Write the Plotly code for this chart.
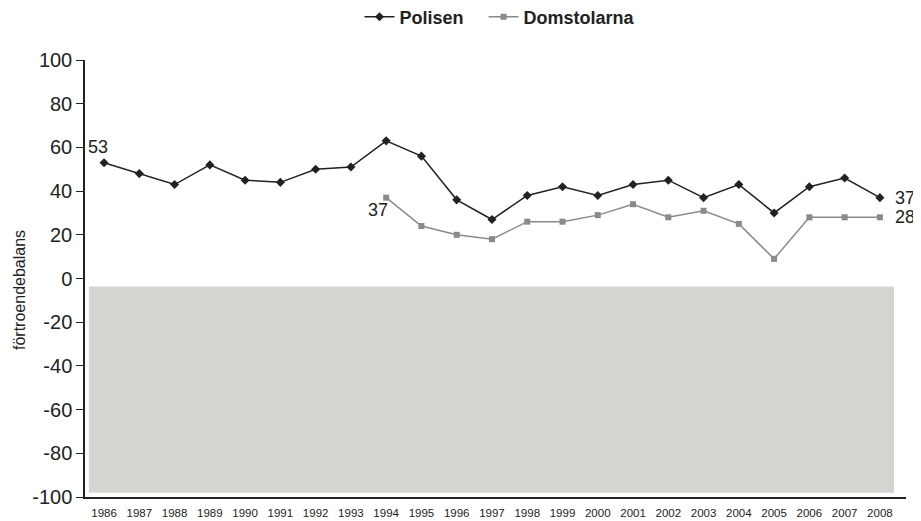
import plotly.graph_objects as go

years = list(range(1986, 2009))
polisen = [53, 48, 43, 52, 45, 44, 50, 51, 63, 56, 36, 27, 38, 42, 38, 43, 45, 37, 43, 30, 42, 46, 37]
dom_years = list(range(1994, 2009))
domstolarna = [37, 24, 20, 18, 26, 26, 29, 34, 28, 31, 25, 9, 28, 28, 28]
y_ticks = [100, 80, 60, 40, 20, 0, -20, -40, -60, -80, -100]
y_title = "förtroendebalans"

FONT = "Liberation Sans, Arial, sans-serif"
W, H = 913, 513  # page body adds an 8px margin in the 921x521 window
ML, MR, MT, MB = 77, 15, 52, 24

fig = go.Figure()
fig.add_shape(type="rect", xref="x", yref="y", x0=1986 - 0.43, x1=2008 + 0.4, y0=-98, y1=-3.7,
              fillcolor="#d3d5d0", line=dict(width=0), layer="below")
fig.add_trace(go.Scatter(x=years, y=polisen, name="<b>Polisen</b>&nbsp;&nbsp;&nbsp;", mode="lines+markers",
                         line=dict(color="#222222", width=1.5),
                         marker=dict(symbol="diamond", size=7, color="#222222")))
fig.add_trace(go.Scatter(x=dom_years, y=domstolarna, name="<b>Domstolarna</b>", mode="lines+markers",
                         line=dict(color="#8a8a8a", width=1.5),
                         marker=dict(symbol="square", size=6, color="#8a8a8a")))

# (x, y, text, xanchor, xshift, yshift)
ann = [
    (years[0], polisen[0], str(polisen[0]), "center", -6, 16),
    (dom_years[0], domstolarna[0], str(domstolarna[0]), "right", 4, -12),
    (years[-1], polisen[-1], str(polisen[-1]), "left", 13, 0),
    (dom_years[-1], domstolarna[-1], str(domstolarna[-1]), "left", 13, 0),
]
for x, y, t, xa, dx, dy in ann:
    fig.add_annotation(x=x, y=y, text=t, showarrow=False, xanchor=xa,
                       xshift=dx, yshift=dy,
                       font=dict(family=FONT, size=18, color="#222"))

plot_h = H - MT - MB
fig.add_annotation(text=y_title, textangle=-90, showarrow=False,
                   xref="paper", yref="paper", x=0, y=(H - MB - 282) / plot_h,
                   xanchor="center", yanchor="middle", xshift=11 - ML,
                   font=dict(family=FONT, size=16, color="#222"))

fig.update_layout(
    width=W, height=H,
    margin=dict(l=ML, r=MR, t=MT, b=MB, autoexpand=False),
    paper_bgcolor="white", plot_bgcolor="white",
    font=dict(family=FONT, color="#222"),
    showlegend=True,
    legend=dict(orientation="h", xref="container", yref="container",
                x=492 / W, xanchor="center", y=1 - 9 / H, yanchor="middle",
                font=dict(family=FONT, size=18, color="#222"), itemwidth=30,
                tracegroupgap=0),
    xaxis=dict(range=[1986 - 0.54, 2008 + 0.74], tickmode="array", tickvals=years,
               ticktext=[str(y) for y in years], tickfont=dict(size=11.5, family=FONT),
               showgrid=False, zeroline=False, showline=True, linecolor="#222", linewidth=1.5,
               ticks="", ticklabelstandoff=4),
    yaxis=dict(range=[-100, 100], tickvals=y_ticks, ticktext=[str(v) for v in y_ticks],
               tickfont=dict(size=20, family=FONT), showgrid=False, zeroline=False,
               showline=True, linecolor="#222", linewidth=1.5, ticks="outside", ticklen=7,
               tickcolor="#222"),
)
fig.write_html("out.html")
